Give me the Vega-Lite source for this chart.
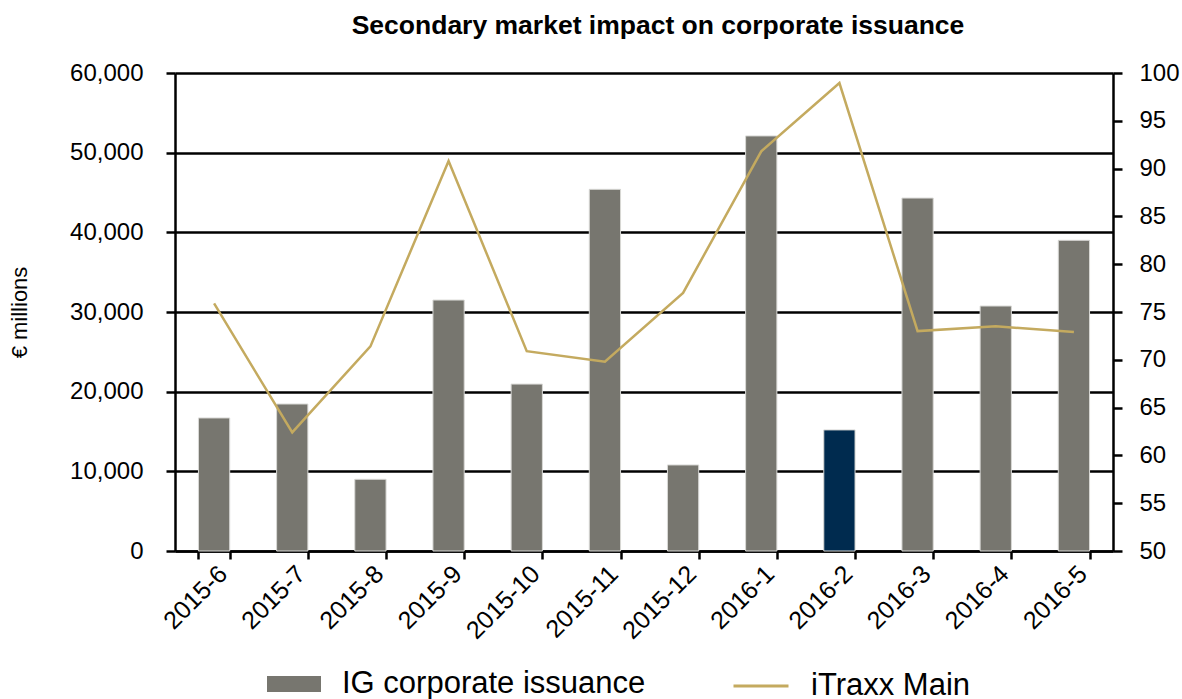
{
  "$schema": "https://vega.github.io/schema/vega-lite/v6.json",
  "autosize": {"type": "none"},
  "padding": {"left": 175, "top": 73, "right": 69, "bottom": 148},
  "width": 938,
  "height": 478,
  "config": {
    "font": "Liberation Sans",
    "view": {"stroke": null}
  },
  "title": {
    "text": "Secondary market impact on corporate issuance",
    "fontSize": 26.5,
    "fontWeight": "bold",
    "font": "Liberation Sans",
    "color": "#000000",
    "offset": 22,
    "dx": 14
  },
  "data": {
    "values": [
      {"month": "2015-6", "issuance": 16700, "itraxx": 75.9},
      {"month": "2015-7", "issuance": 18450, "itraxx": 62.4},
      {"month": "2015-8", "issuance": 9000, "itraxx": 71.4},
      {"month": "2015-9", "issuance": 31500, "itraxx": 90.8},
      {"month": "2015-10", "issuance": 20950, "itraxx": 70.9},
      {"month": "2015-11", "issuance": 45400, "itraxx": 69.8},
      {"month": "2015-12", "issuance": 10800, "itraxx": 77.0},
      {"month": "2016-1", "issuance": 52100, "itraxx": 91.8},
      {"month": "2016-2", "issuance": 15200, "itraxx": 98.95},
      {"month": "2016-3", "issuance": 44300, "itraxx": 73.0},
      {"month": "2016-4", "issuance": 30750, "itraxx": 73.5},
      {"month": "2016-5", "issuance": 39000, "itraxx": 72.9}
    ]
  },
  "encoding": {
    "x": {
      "field": "month",
      "type": "ordinal",
      "sort": null,
      "scale": {"paddingInner": 0.6, "paddingOuter": 0.3},
      "axis": {
        "title": null,
        "labelAngle": -45,
        "labelFontSize": 25,
        "labelColor": "#000000",
        "labelPadding": 2,
        "tickBand": "extent",
        "tickSize": 8,
        "tickWidth": 2.5,
        "tickColor": "#000000",
        "domainColor": "#000000",
        "domainWidth": 2.5
      }
    }
  },
  "layer": [
    {
      "mark": {"type": "bar", "stroke": "#d9d9d6", "strokeWidth": 1},
      "encoding": {
        "y": {
          "field": "issuance",
          "type": "quantitative",
          "scale": {"domain": [0, 60000], "nice": false},
          "axis": {
            "title": "€ millions",
            "titleFontSize": 22,
            "titleFontWeight": "normal",
            "titleColor": "#000000",
            "titlePadding": 38,
            "values": [0, 10000, 20000, 30000, 40000, 50000, 60000],
            "format": ",d",
            "labelFontSize": 24,
            "labelColor": "#000000",
            "labelPadding": 23,
            "tickSize": 9,
            "tickWidth": 2.5,
            "tickColor": "#000000",
            "domainColor": "#000000",
            "domainWidth": 2.5,
            "grid": true,
            "gridColor": "#000000",
            "gridWidth": 2.5,
            "gridOpacity": 1
          }
        },
        "fill": {
          "condition": {"test": "datum.month === '2016-2'", "value": "#002b4f"},
          "datum": "IG corporate issuance",
          "type": "nominal",
          "scale": {"range": ["#77766f"]},
          "legend": {
            "title": null,
            "orient": "none",
            "legendX": 92,
            "legendY": 584,
            "labelFontSize": 31,
            "labelLimit": 600,
            "labelColor": "#000000",
            "symbolType": "M-1,-0.296H1V0.296H-1Z",
            "symbolSize": 2916,
            "symbolStrokeWidth": 0,
            "labelOffset": 21
          }
        }
      }
    },
    {
      "mark": {"type": "line", "strokeWidth": 2.5},
      "encoding": {
        "y": {
          "field": "itraxx",
          "type": "quantitative",
          "scale": {"domain": [50, 100], "nice": false},
          "axis": {
            "orient": "right",
            "title": null,
            "values": [50, 55, 60, 65, 70, 75, 80, 85, 90, 95, 100],
            "labelFontSize": 24,
            "labelColor": "#000000",
            "labelPadding": 17,
            "tickSize": 9,
            "tickWidth": 2.5,
            "tickColor": "#000000",
            "domainColor": "#000000",
            "domainWidth": 2.5,
            "grid": false
          }
        },
        "stroke": {
          "datum": "iTraxx Main",
          "type": "nominal",
          "scale": {"range": ["#c4aa5f"]},
          "legend": {
            "title": null,
            "orient": "none",
            "legendX": 557,
            "legendY": 584,
            "labelFontSize": 31,
            "labelLimit": 600,
            "labelColor": "#000000",
            "symbolType": "stroke",
            "symbolSize": 3025,
            "symbolStrokeWidth": 3,
            "labelOffset": 21
          }
        }
      }
    }
  ],
  "resolve": {"scale": {"y": "independent"}}
}
